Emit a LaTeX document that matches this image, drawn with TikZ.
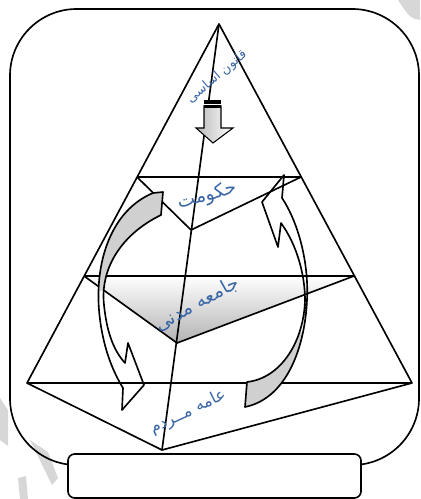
\documentclass[tikz,border=0pt]{standalone}
\usepackage{fontspec}
\newfontfamily\arabicfont[Script=Arabic]{DejaVu Sans}
\TeXXeTstate=1
\definecolor{labelblue}{RGB}{58,102,166}
\definecolor{arrowgrey}{RGB}{208,208,208}
\definecolor{markgrey}{RGB}{215,215,215}
\tikzset{
  edge/.style={line width=1.4pt, line join=round},
  lbl/.style={text=labelblue, font=\arabicfont\fontsize{16}{18}\selectfont, inner sep=0pt},
}
\newcommand{\leftbend}{(153,193) -- (163,192) -- (161,215)
  .. controls (120,235) and (100,270) .. (104,305)
  .. controls (107,335) and (115,352) .. (125,363)
  -- (128,343) -- (144,385) -- (122,410) -- (123,388)
  .. controls (112,370) and (102,345) .. (99,310)
  .. controls (95,260) and (112,210) .. (153,193) -- cycle}
\newcommand{\rightbend}{(284,175) -- (262,202) -- (278,247) -- (281,223)
  .. controls (297,245) and (305,275) .. (305,300)
  .. controls (304,340) and (282,378) .. (247,382)
  -- (245,407)
  .. controls (288,398) and (305,345) .. (307,300)
  .. controls (309,262) and (298,222) .. (282,198) -- cycle}
\begin{document}
\begin{tikzpicture}[x=0.3mm, y=-0.3mm]
  \useasboundingbox (0,0) rectangle (420,499);
  \fill[markgrey] (0,398) -- (8,410) -- (8,446) -- (0,440) -- cycle;
  \fill[markgrey] (30,440) -- (48,452) -- (58,478) -- (52,485) -- cycle;
  \fill[markgrey] (18,478) -- (26,476) -- (28,499) -- (20,499) -- cycle;
  \fill[markgrey] (398,0) -- (420,0) -- (420,20) .. controls (410,18) .. (398,0);

  \draw[edge, rounded corners=20mm] (10,9) rectangle (419,465);

  \coordinate (apex) at (219,24);
  \coordinate (baseL) at (27,383);
  \coordinate (baseR) at (412,383);
  \coordinate (baseF) at (162,450);
  \coordinate (topL) at (137,177);
  \coordinate (topR) at (301,177);
  \coordinate (topF) at (191,230);
  \coordinate (midL) at (84,276);
  \coordinate (midR) at (354,276);
  \coordinate (midF) at (177,343);

  \shade[top color=white, bottom color=gray!60] (midL) -- (midR) -- (midF) -- cycle;

  \draw[edge] (apex) -- (baseL) -- (baseR) -- cycle;
  \draw[edge] (apex) -- (baseF);
  \draw[edge] (baseL) -- (baseF) -- (baseR);
  \draw[edge] (topL) -- (topR);
  \draw[edge] (topL) -- (topF) -- (topR);
  \draw[edge] (midL) -- (midR);
  \draw[edge] (midL) -- (midF) -- (midR);

  \begin{scope}
    \clip (0,0) rectangle (420,290);
    \fill[arrowgrey] \leftbend;
  \end{scope}
  \draw[edge] \leftbend;
  \begin{scope}
    \clip (0,332) rectangle (420,499);
    \fill[arrowgrey] \rightbend;
  \end{scope}
  \draw[edge] \rightbend;

  \shade[left color=gray!55, right color=white, draw=black, line width=0.9pt]
    (204,106) -- (221,106) -- (221,128) -- (233,128) -- (213,143)
    -- (196,128) -- (204,128) -- cycle;
  \fill (204,100) rectangle (221,108);
  \draw[white, line width=0.6pt] (204,104) -- (221,104);

  \node[lbl, font=\arabicfont\fontsize{11}{13}\selectfont, rotate=40] (law) at (217,77) {\beginR قانون اساسی\endR};
  \node[lbl, rotate=15] (govt) at (207,196) {\beginR حکومت\endR};
  \node[lbl, rotate=29] (civil) at (197,304) {\beginR جامعه مدنی\endR};
  \node[lbl, font=\arabicfont\fontsize{14}{16}\selectfont, rotate=26] (people) at (188,412) {\beginR عامه مــردم\endR};

  \draw[edge, fill=white, rounded corners=2mm] (68,454) rectangle (361,498);
\end{tikzpicture}
\end{document}
